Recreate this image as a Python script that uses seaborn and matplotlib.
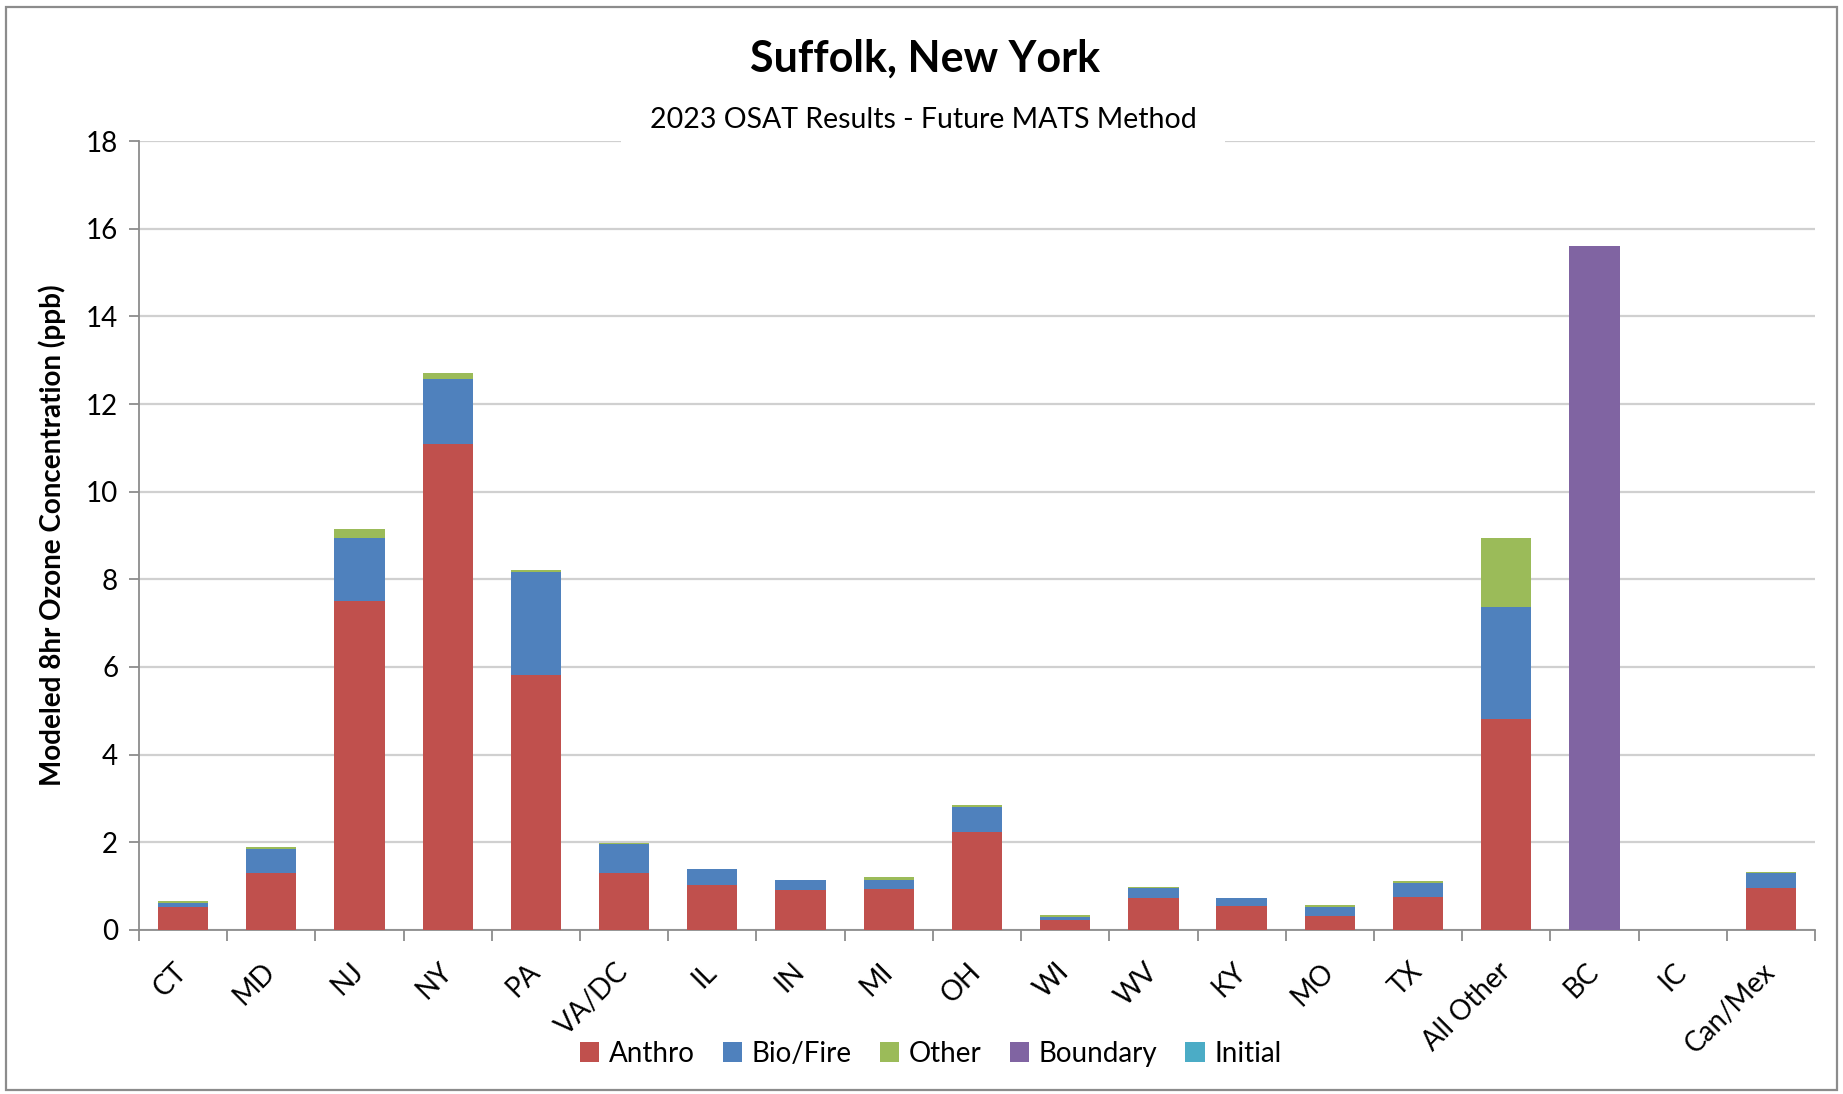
import numpy as np
import pandas as pd
import matplotlib
matplotlib.use("Agg")
import matplotlib.pyplot as plt
from matplotlib.patches import Patch, Rectangle
import seaborn as sns

sns.set_theme(style="white")
plt.rcParams['font.family'] = ['Lato', 'DejaVu Sans']
plt.rcParams['text.color'] = 'black'
plt.rcParams['axes.labelcolor'] = 'black'
plt.rcParams['xtick.color'] = 'black'
plt.rcParams['ytick.color'] = 'black'

# --- data ---
regions = ["CT", "MD", "NJ", "NY", "PA", "VA/DC", "IL", "IN", "MI", "OH",
           "WI", "WV", "KY", "MO", "TX", "All Other", "BC", "IC", "Can/Mex"]
anthro = [0.53, 1.29, 7.50, 11.08, 5.82, 1.30, 1.03, 0.90, 0.93, 2.23,
          0.22, 0.73, 0.55, 0.31, 0.76, 4.82, 0.00, 0.00, 0.96]
bio_fire = [0.08, 0.55, 1.45, 1.49, 2.35, 0.65, 0.35, 0.24, 0.22, 0.57,
            0.08, 0.22, 0.17, 0.22, 0.31, 2.54, 0.00, 0.00, 0.33]
other = [0.05, 0.06, 0.19, 0.14, 0.04, 0.03, 0.02, 0.01, 0.06, 0.04,
         0.05, 0.03, 0.01, 0.03, 0.04, 1.59, 0.00, 0.00, 0.02]
boundary = [0, 0, 0, 0, 0, 0, 0, 0, 0, 0, 0, 0, 0, 0, 0, 0, 15.60, 0, 0]
initial = [0] * len(regions)

sources = ["Anthro", "Bio/Fire", "Other", "Boundary", "Initial"]
colors = ["#C0504D", "#4F81BD", "#9BBB59", "#8064A2", "#4BACC6"]

df = pd.DataFrame({"Region": regions, "Anthro": anthro, "Bio/Fire": bio_fire,
                   "Other": other, "Boundary": boundary, "Initial": initial})

# cumulative stacks, drawn from the top layer down
cum = df[sources].cumsum(axis=1)

fig = plt.figure(figsize=(18.43, 10.94), dpi=100)
ax = fig.add_axes([0.0754, 0.150, 0.9094, 0.721])

for src, col in reversed(list(zip(sources, colors))):
    sns.barplot(x=df["Region"], y=cum[src], color=col, saturation=1,
                width=0.57, ax=ax, linewidth=0, zorder=3)

ax.set_ylim(0, 18)
ax.set_yticks(np.arange(0, 19, 2))
ax.set_xlim(-0.5, len(regions) - 0.5)
ax.yaxis.grid(True, color="#D0D0D0", linewidth=1.6, zorder=0)
ax.set_axisbelow(True)
for s in ["top", "right"]:
    ax.spines[s].set_visible(False)
for s in ["left", "bottom"]:
    ax.spines[s].set_color("#8C8C8C")
    ax.spines[s].set_linewidth(1.3)

ax.set_xlabel("")
ax.set_ylabel("Modeled 8hr Ozone Concentration (ppb)", fontsize=20,
              fontweight="bold", labelpad=14)
ax.tick_params(axis="y", length=7, width=1.3, color="#8C8C8C", labelsize=20,
               pad=8, left=True, labelcolor="black")
# category boundaries carry the tick marks, labels sit at the centres
ax.set_xticks(np.arange(len(regions)))
ax.set_xticks(np.arange(-0.5, len(regions)), minor=True)
ax.tick_params(axis="x", which="major", length=0, pad=27, labelsize=20,
               labelcolor="black")
ax.tick_params(axis="x", which="minor", length=8, width=1.3,
               color="#8C8C8C", bottom=True)
for lab in ax.get_xticklabels():
    lab.set_rotation(45)
    lab.set_ha("right")
    lab.set_va("center")
    lab.set_rotation_mode("anchor")

fig.text(0.502, 0.946, "Suffolk, New York", ha="center", va="center",
         fontsize=31, fontweight="bold", zorder=5)
fig.text(0.501, 0.890, "2023 OSAT Results - Future MATS Method", ha="center",
         va="center", fontsize=20.5, zorder=4,
         bbox=dict(boxstyle="square,pad=1.0", fc="white", ec="none"))

handles = [Patch(facecolor=c, edgecolor="none", label=s)
           for s, c in zip(sources, colors)]
fig.legend(handles=handles, loc="center", bbox_to_anchor=(0.505, 0.037),
           ncol=5, frameon=False, fontsize=20, handlelength=0.7,
           handleheight=0.7, handletextpad=0.35, columnspacing=1.0)

fig.patches.append(Rectangle((0.003, 0.004), 0.994, 0.990,
                             transform=fig.transFigure, fill=False,
                             edgecolor="#8C8C8C", linewidth=1.6))

fig.savefig("out.png", dpi=100)
